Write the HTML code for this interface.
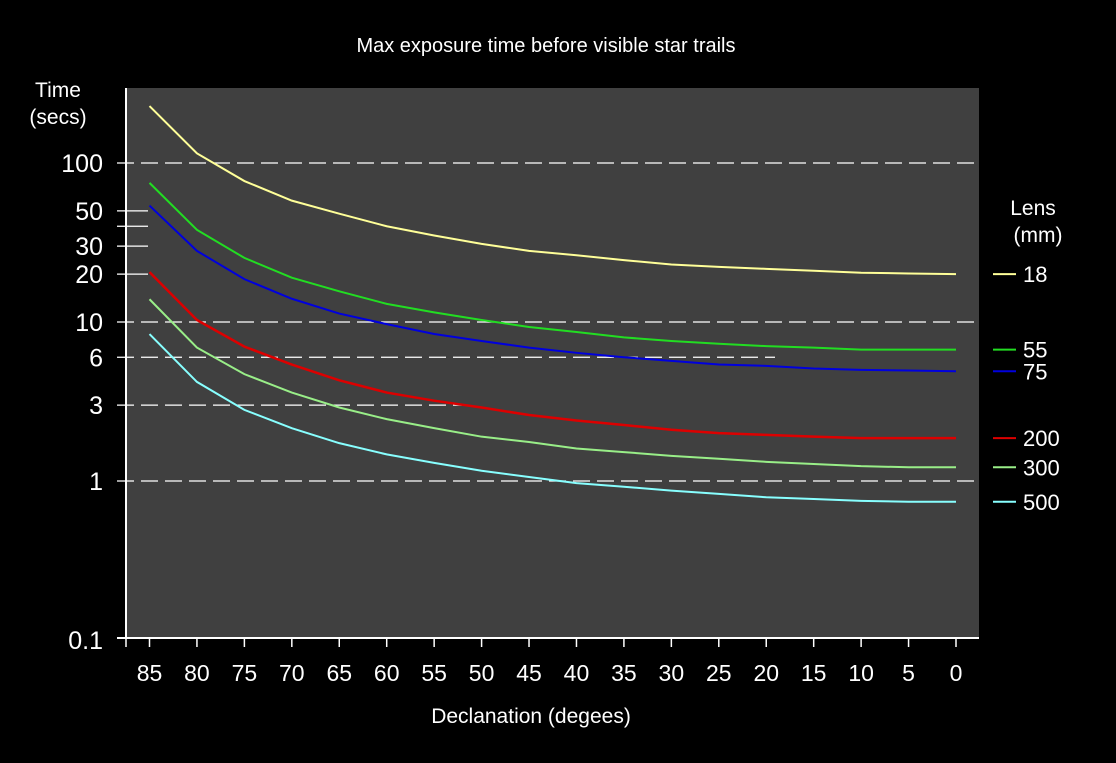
<!DOCTYPE html>
<html><head><meta charset="utf-8"><style>
body{margin:0;background:#000;width:1116px;height:758px;overflow:hidden}
svg text{font-family:"Liberation Sans",sans-serif;fill:#fff}
</style></head><body>
<svg id="chart" width="1116" height="758" xmlns="http://www.w3.org/2000/svg">
<rect width="1116" height="758" fill="#000"/>
<text x="546" y="52" font-size="20" text-anchor="middle">Max exposure time before visible star trails</text>
<rect x="126" y="88" width="853" height="550" fill="#404040"/>
<g id="grid"></g>
<g id="series"></g>
<g id="axes"></g>
<text x="58" y="97" font-size="21" text-anchor="middle">Time</text>
<text x="58" y="124" font-size="21" text-anchor="middle">(secs)</text>
<text x="531" y="723" font-size="21" text-anchor="middle">Declanation (degees)</text>
<text x="1033" y="215" font-size="21" text-anchor="middle">Lens</text>
<text x="1038" y="242" font-size="21" text-anchor="middle">(mm)</text>
<g id="legend"></g>
</svg>
<script>
const categories=[85,80,75,70,65,60,55,50,45,40,35,30,25,20,15,10,5,0];
const lensNames=["18","55","75","200","300","500"];
const lensColors=["#ffff99","#22dd22","#0000dd","#dd0000","#99ee88","#88ffff"];
const s18=[228,115,77,58,48,40,35,31,28,26.3,24.5,23,22.2,21.6,21,20.4,20.2,20];
const s55=[75,38,25.3,19,15.6,13,11.5,10.3,9.3,8.65,8.0,7.6,7.3,7.05,6.9,6.7,6.7,6.7];
const s75=[54,28,18.6,14,11.3,9.7,8.4,7.6,6.9,6.4,6.0,5.7,5.4,5.3,5.1,5.0,4.95,4.9];
const s200=[20.6,10.3,7.0,5.4,4.3,3.6,3.2,2.9,2.6,2.4,2.25,2.1,2.0,1.95,1.9,1.86,1.86,1.86];
const s300=[13.9,6.9,4.7,3.6,2.9,2.45,2.15,1.9,1.76,1.6,1.52,1.44,1.38,1.32,1.28,1.24,1.22,1.22];
const s500=[8.4,4.2,2.8,2.15,1.73,1.47,1.3,1.16,1.06,0.97,0.92,0.87,0.83,0.79,0.77,0.75,0.74,0.74];
const yTickLabels=["100","50","30","20","10","6","3","1","0.1"];
const yTickValues=[100,50,30,20,10,6,3,1,0.1];
const dashedValues=[100,10,6,3,1];
const solidTickValues=[50,40,30,20];
const legendValues=[20,6.7,4.9,1.86,1.22,0.74];
const NS="http://www.w3.org/2000/svg";
function X(i){return 149.5+i*(956-149.5)/(categories.length-1);}
function Y(v){return 481-159*Math.log10(v);}
function mk(tag,attrs,parent){const e=document.createElementNS(NS,tag);for(const k in attrs)e.setAttribute(k,attrs[k]);parent.appendChild(e);return e;}
const grid=document.getElementById('grid'),axes=document.getElementById('axes'),ser=document.getElementById('series'),leg=document.getElementById('legend');
const dashEnd={100:979,10:979,6:775,3:462,1:979};
dashedValues.forEach(v=>{
 const l=mk('line',{x1:117,x2:dashEnd[v],y1:Y(v),y2:Y(v),stroke:'#fff','stroke-width':1.3,'stroke-dasharray':'17,7'},grid);
 
 
});
solidTickValues.forEach(v=>{
 const l=mk('line',{x1:117,x2:148,y1:Y(v),y2:Y(v),stroke:'#fff','stroke-width':1.3},grid);
 
 
});
const la=mk('line',{x1:126,x2:126,y1:88,y2:638,stroke:'#fff','stroke-width':2},axes);


const ba=mk('line',{x1:117,x2:979,y1:638,y2:638,stroke:'#fff','stroke-width':2},axes);


yTickValues.forEach((v,i)=>{
 const t=mk('text',{x:103,y:Y(v)+9,'font-size':25,'text-anchor':'end'},axes);
 t.textContent=yTickLabels[i];
 
 
});
mk('line',{x1:126,x2:126,y1:638,y2:647,stroke:'#fff','stroke-width':1.5},axes);
categories.forEach((c,i)=>{
 const tk=mk('line',{x1:X(i),x2:X(i),y1:638,y2:647,stroke:'#fff','stroke-width':1.5},axes);
 
 
 const t=mk('text',{x:X(i),y:681,'font-size':23,'text-anchor':'middle'},axes);
 t.textContent=c;
 
 
});
const allSeries=[s18,s55,s75,s200,s300,s500];
allSeries.forEach((s,k)=>{
 const p=mk('polyline',{points:s.map((v,i)=>X(i)+','+Y(v)).join(' '),fill:'none',stroke:lensColors[k],'stroke-width':k==3?2.5:2},ser);
 
 
 const y=Y(legendValues[k]);
 const ll=mk('line',{x1:993,x2:1016,y1:y,y2:y,stroke:lensColors[k],'stroke-width':2},leg);
 
 
 const lt=mk('text',{x:1023,y:y+8,'font-size':22},leg);
 lt.textContent=lensNames[k];
 
 
});
</script>
</body></html>
